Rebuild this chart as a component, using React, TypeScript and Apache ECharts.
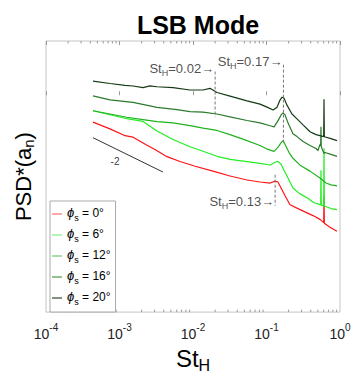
import React, { useEffect, useRef } from "react";
import * as echarts from "echarts";

const FONT = "'Liberation Sans', Arial, Helvetica, sans-serif";

// Series: phi_s angles, colours
const seriesNames = ["0°", "6°", "12°", "16°", "20°"];
const seriesColors = ["#ff1414", "#22ee22", "#1fb21f", "#2a7a2a", "#143a14"];
const legendColors = ["#ff7070", "#80f080", "#70cc70", "#4a9a4a", "#2e4a2e"];

// [St_H, log10 PSD*(a_n)] (curves are vertically offset)
const psd0: number[][] = [
  [4.36e-4, -1.49], [7.42e-4, -1.86], [1.19e-3, -2.24], [1.53e-3, -2.32], [2.37e-3, -2.77],
  [3.04e-3, -3.0], [4.43e-3, -3.4], [6.65e-3, -3.67], [1.07e-2, -3.93], [1.87e-2, -4.2],
  [3.19e-2, -4.47], [5.43e-2, -4.69], [8.16e-2, -4.8], [0.112, -4.86], [0.131, -4.75],
  [0.143, -4.8], [0.1527, -5.02], [0.179, -5.56], [0.209, -6.06], [0.286, -6.33],
  [0.429, -6.66], [0.534, -6.87], [0.6, -7.05], [0.606, -5.56], [0.612, -7.08],
  [0.731, -7.31], [0.91, -7.53],
];
const psd6: number[][] = [
  [4.36e-4, -0.86], [7.42e-4, -1.08], [1.26e-3, -1.3], [2.09e-3, -1.45], [3.24e-3, -1.98],
  [5.35e-3, -2.45], [9.1e-3, -2.85], [1.37e-2, -3.1], [2.12e-2, -3.38], [3.19e-2, -3.55],
  [5.43e-2, -3.67], [8.16e-2, -3.77], [0.112, -3.86], [0.131, -3.71], [0.143, -3.66],
  [0.158, -3.82], [0.173, -4.15], [0.196, -4.58], [0.229, -5.13], [0.286, -5.46],
  [0.356, -5.67], [0.443, -5.95], [0.546, -6.07], [0.551, -4.15], [0.556, -6.08],
  [0.6, -6.12], [0.606, -2.95], [0.612, -6.13], [0.754, -6.27], [0.91, -6.33],
];
const psd12: number[][] = [
  [4.36e-4, -0.86], [7.42e-4, -1.04], [1.26e-3, -1.22], [2.09e-3, -1.35], [3.24e-3, -1.46],
  [5.35e-3, -1.53], [9.1e-3, -1.68], [1.37e-2, -1.82], [2.12e-2, -1.95], [3.19e-2, -2.18],
  [5.43e-2, -2.51], [8.16e-2, -2.78], [0.105, -3.0], [0.1265, -3.11], [0.143, -2.89],
  [0.158, -2.62], [0.168, -2.51], [0.179, -2.73], [0.202, -3.16], [0.229, -3.49],
  [0.286, -3.87], [0.391, -4.2], [0.534, -4.58], [0.645, -4.86], [0.754, -4.96], [0.91, -5.02],
];
const psd16: number[][] = [
  [4.36e-4, -0.04], [7.42e-4, -0.26], [1.53e-3, -0.4], [3.24e-3, -0.67], [6.06e-3, -0.8],
  [9.1e-3, -0.91], [1.37e-2, -0.94], [2.12e-2, -1.04], [3.19e-2, -1.2], [5.43e-2, -1.4],
  [8.16e-2, -1.53], [0.112, -1.69], [0.1265, -1.75], [0.143, -1.42], [0.158, -1.09],
  [0.168, -0.98], [0.179, -1.09], [0.196, -1.53], [0.229, -2.13], [0.26, -2.29],
  [0.314, -2.56], [0.391, -2.78], [0.472, -2.95], [0.502, -3.06], [0.534, -2.72],
  [0.546, -2.8], [0.551, -1.75], [0.556, -2.82], [0.569, -2.95], [0.606, -3.22],
  [0.625, -3.17], [0.754, -3.27], [0.91, -3.38],
];
const psd20: number[][] = [
  [4.36e-4, 0.78], [7.42e-4, 0.65], [1.19e-3, 0.55], [1.53e-3, 0.51], [2.09e-3, 0.42],
  [2.6e-3, 0.52], [3.24e-3, 0.47], [5.35e-3, 0.42], [9.1e-3, 0.29], [1.37e-2, 0.29],
  [1.7e-2, 0.38], [2.12e-2, 0.15], [3.19e-2, -0.05], [5.43e-2, -0.31], [8.16e-2, -0.49],
  [0.1016, -0.66], [0.123, -0.82], [0.139, -0.66], [0.1527, -0.27], [0.1625, -0.11],
  [0.173, -0.16], [0.19, -0.55], [0.222, -1.04], [0.26, -1.31], [0.314, -1.64],
  [0.391, -2.02], [0.472, -2.18], [0.6, -2.29], [0.606, -0.22], [0.612, -2.3],
  [0.754, -2.4], [0.91, -2.51],
];
const psdSeries = [psd0, psd6, psd12, psd16, psd20];

// -2 slope reference line
const slopeLine: number[][] = [[4.36e-4, -2.35], [3.9e-3, -4.25]];
const slopeLabelPos = [8.69e-4, -3.66];
const slopeLabel = "-2";

// St_H markers
const markSt = [0.02, 0.17, 0.131];
const markTop = [1.31, 1.69, -4.4];
const markBottom = [-1.2, -2.67, -6.11];
const markLabelY = [1.42, 1.8, -5.95];
const markText = ["0.02", "0.17", "0.13"];

const xMin = 1e-4;
const xMax = 1;
const yMin = -12;
const yMax = 3;
const decadeExponents = [-4, -3, -2, -1];
const minorMultipliers = [2, 3, 4, 5, 6, 7, 8, 9];

export default function App() {
  const ref = useRef<HTMLDivElement>(null);
  useEffect(() => {
    if (!ref.current) return;
    const chart = echarts.init(ref.current, undefined, { renderer: "svg" });

    const minorTicks: number[][] = [];
    decadeExponents.forEach((e) =>
      minorMultipliers.forEach((m) => minorTicks.push([m * Math.pow(10, e), yMin]))
    );

    const curveSeries = psdSeries.map((d, i) => ({
      name: seriesNames[i],
      type: "line",
      data: d,
      symbol: "none",
      showSymbol: false,
      z: 3 + i,
      lineStyle: { color: seriesColors[i], width: 1.2 },
      itemStyle: { color: legendColors[i] },
    }));

    const markSeries = markSt.map((s, i) => ({
      type: "line",
      data: [[s, markTop[i]], [s, markBottom[i]]],
      symbol: "none",
      z: 10,
      lineStyle: { color: "#777", width: 1, type: [3, 2] },
    }));

    const option: any = {
      animation: false,
      title: {
        text: "LSB Mode",
        left: 193,
        top: 7,
        textAlign: "center",
        textStyle: { fontFamily: FONT, fontSize: 25, fontWeight: "bold", color: "#000" },
      },
      grid: {
        left: 46, right: 17, top: 41, bottom: 62,
        show: true, borderColor: "#c4c4c4", borderWidth: 1, backgroundColor: "#fff",
      },
      legend: {
        orient: "vertical",
        left: 50,
        top: 201,
        data: seriesNames,
        icon: "rect",
        itemWidth: 10,
        itemHeight: 1.2,
        itemGap: 5,
        itemTextGap: 2,
        padding: [5, 5, 6, 2],
        borderColor: "#aaa",
        borderWidth: 1,
        backgroundColor: "#fff",
        formatter: (n: string) => `{p|ϕ}{s|s}{t| = ${n}}`,
        textStyle: {
          fontFamily: FONT,
          color: "#000",
          rich: {
            p: { fontFamily: FONT, fontSize: 13, fontStyle: "italic", verticalAlign: "top", color: "#000" },
            s: { fontFamily: FONT, fontSize: 9, padding: [7, 0, 0, 0], verticalAlign: "top", color: "#000" },
            t: { fontFamily: FONT, fontSize: 12, padding: [1, 0, 0, 0], verticalAlign: "top", color: "#000" },
          },
        },
      },
      xAxis: [
        {
          type: "log",
          logBase: 10,
          min: xMin,
          max: xMax,
          position: "bottom",
          axisLine: { show: false },
          axisTick: { show: true, inside: true, length: 4, lineStyle: { color: "#999" } },
          splitLine: { show: false },
          axisLabel: {
            margin: 10,
            showMinLabel: true,
            showMaxLabel: true,
            formatter: (v: number) => `{b|10}{e|${Math.round(Math.log10(v))}}`,
            rich: {
              b: { fontFamily: FONT, fontSize: 14, padding: [5, 0, 0, 0], verticalAlign: "top", color: "#222" },
              e: { fontFamily: FONT, fontSize: 10, verticalAlign: "top", color: "#222" },
            },
          },
          name: "{m|St}{s|H}",
          nameLocation: "middle",
          nameGap: 29,
          nameTextStyle: {
            rich: {
              m: { fontFamily: FONT, fontSize: 24, verticalAlign: "top", color: "#000" },
              s: { fontFamily: FONT, fontSize: 16, padding: [11, 0, 0, 0], verticalAlign: "top", color: "#000" },
            },
          },
        },
        {
          type: "log",
          logBase: 10,
          min: xMin,
          max: xMax,
          position: "top",
          axisLine: { show: false },
          axisTick: { show: true, inside: true, length: 4, lineStyle: { color: "#999" } },
          axisLabel: { show: false },
          splitLine: { show: false },
        },
      ],
      yAxis: {
        type: "value",
        min: yMin,
        max: yMax,
        axisLine: { show: false },
        axisTick: { show: false },
        axisLabel: { show: false },
        splitLine: { show: false },
        name: "{m|PSD*(a}{s|n}{m|)}",
        nameLocation: "middle",
        nameRotate: 90,
        nameGap: 10,
        nameTextStyle: {
          rich: {
            m: { fontFamily: FONT, fontSize: 22, verticalAlign: "top", color: "#000" },
            s: { fontFamily: FONT, fontSize: 15, padding: [9, 0, 0, 0], verticalAlign: "top", color: "#000" },
          },
        },
      },
      series: [
        {
          type: "custom",
          data: minorTicks,
          silent: true,
          z: 1,
          renderItem: (_p: any, api: any) => {
            const b = api.coord([api.value(0), yMin]);
            const t = api.coord([api.value(0), yMax]);
            return {
              type: "group",
              children: [
                { type: "line", shape: { x1: b[0], y1: b[1], x2: b[0], y2: b[1] - 2.5 }, style: { stroke: "#999", lineWidth: 1 } },
                { type: "line", shape: { x1: t[0], y1: t[1], x2: t[0], y2: t[1] + 2.5 }, style: { stroke: "#999", lineWidth: 1 } },
              ],
            };
          },
        },
        ...curveSeries,
        ...markSeries,
        {
          type: "line",
          data: slopeLine,
          symbol: "none",
          z: 10,
          lineStyle: { color: "#333", width: 1 },
        },
        {
          type: "scatter",
          symbolSize: 0,
          z: 12,
          data: [
            {
              value: slopeLabelPos,
              label: {
                show: true,
                position: "inside",
                formatter: slopeLabel,
                fontFamily: FONT,
                fontSize: 10,
                color: "#000",
              },
            },
            ...markSt.map((s, i) => ({
              value: [s, markLabelY[i]],
              label: {
                show: true,
                position: "left",
                distance: 1,
                formatter: `{a|St}{h|H}{a|=${markText[i]}→}`,
                rich: {
                  a: { fontFamily: FONT, fontSize: 13, verticalAlign: "top", color: "#222" },
                  h: { fontFamily: FONT, fontSize: 9, padding: [6, 0, 0, 0], verticalAlign: "top", color: "#222" },
                },
              },
            })),
          ],
        },
      ],
    };
    chart.setOption(option);
    return () => chart.dispose();
  }, []);
  return (
    <div
      ref={ref}
      style={{ position: "fixed", left: 0, top: 0, width: 357, height: 378, background: "#fff" }}
    />
  );
}
